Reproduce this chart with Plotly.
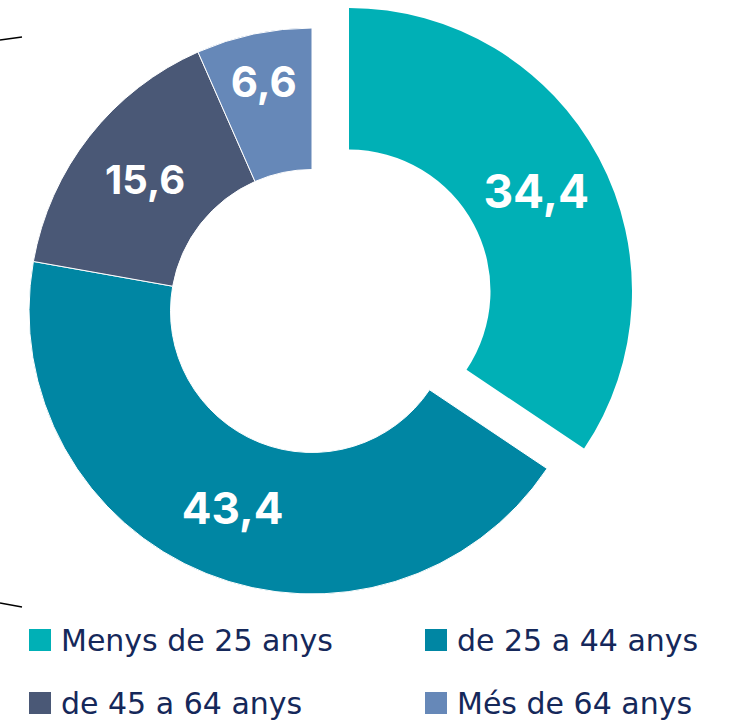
import plotly.graph_objects as go

labels = ["Menys de 25 anys", "de 25 a 44 anys", "de 45 a 64 anys", "Més de 64 anys"]
values = [34.4, 43.4, 15.6, 6.6]
colors = ["#00b0b6", "#0086a3", "#4a5876", "#6688b8"]

W, H = 738, 721
clear = "rgba(0,0,0,0)"


def px(x):
    return x / W


def py(y):
    return 1 - y / H


def fmt(v):
    return f"{v:.1f}".replace(".", ",")


texts = [fmt(v) for v in values]
label_sizes = [46, 44, 40, 42]

# ring center / radius in pixels, first slice drawn again as a shifted copy
cx, cy, r = 312, 311, 283
dx, dy = 37, -20

fig = go.Figure()

fig.add_trace(go.Pie(
    labels=labels, values=values, sort=False, direction="clockwise", rotation=0,
    hole=0.5,
    marker=dict(colors=[clear] + colors[1:], line=dict(color="white", width=[0, 1, 1, 1])),
    text=[""] + texts[1:], textinfo="text", textposition="inside",
    insidetextorientation="horizontal",
    textfont=dict(family="Inter", size=label_sizes, color="white", weight="bold"),
    domain=dict(x=[px(cx - r), px(cx + r)], y=[py(cy + r), py(cy - r)]),
    showlegend=False, hoverinfo="skip",
))

fig.add_trace(go.Pie(
    labels=labels, values=values, sort=False, direction="clockwise", rotation=0,
    hole=0.5,
    marker=dict(colors=colors[:1] + [clear] * 3, line=dict(width=0)),
    text=texts[:1] + [""] * 3, textinfo="text", textposition="inside",
    insidetextorientation="horizontal",
    textfont=dict(family="Inter", size=label_sizes, color="white", weight="bold"),
    domain=dict(x=[px(cx + dx - r), px(cx + dx + r)], y=[py(cy + dy + r), py(cy + dy - r)]),
    showlegend=False, hoverinfo="skip",
))

# legend drawn by hand (2 columns)
shapes = []
annotations = []
col_x = [29, 425]
row_y = [640, 703]
sq = 22
for i, lab in enumerate(labels):
    x0 = col_x[i % 2]
    yc = row_y[i // 2]
    shapes.append(dict(type="rect", xref="paper", yref="paper",
                       x0=px(x0), x1=px(x0 + sq), y0=py(yc + sq / 2), y1=py(yc - sq / 2),
                       fillcolor=colors[i], line=dict(width=0)))
    annotations.append(dict(text=lab, xref="paper", yref="paper", x=px(x0 + 31), y=py(yc),
                            xanchor="left", yanchor="middle", showarrow=False, borderpad=0,
                            font=dict(family="DejaVu Sans", size=30, color="#15285a")))

# small black strokes at the left edge
shapes.append(dict(type="line", xref="paper", yref="paper",
                   x0=px(0), y0=py(40), x1=px(22), y1=py(37),
                   line=dict(color="black", width=1.5)))
shapes.append(dict(type="line", xref="paper", yref="paper",
                   x0=px(0), y0=py(603), x1=px(22), y1=py(607),
                   line=dict(color="black", width=1.5)))

fig.update_layout(
    width=W, height=H,
    margin=dict(l=0, r=0, t=0, b=0),
    paper_bgcolor="white", plot_bgcolor="white",
    shapes=shapes, annotations=annotations,
)

fig.write_html("out.html", config={"displayModeBar": False},
               post_script="document.body.style.margin = '0';")
